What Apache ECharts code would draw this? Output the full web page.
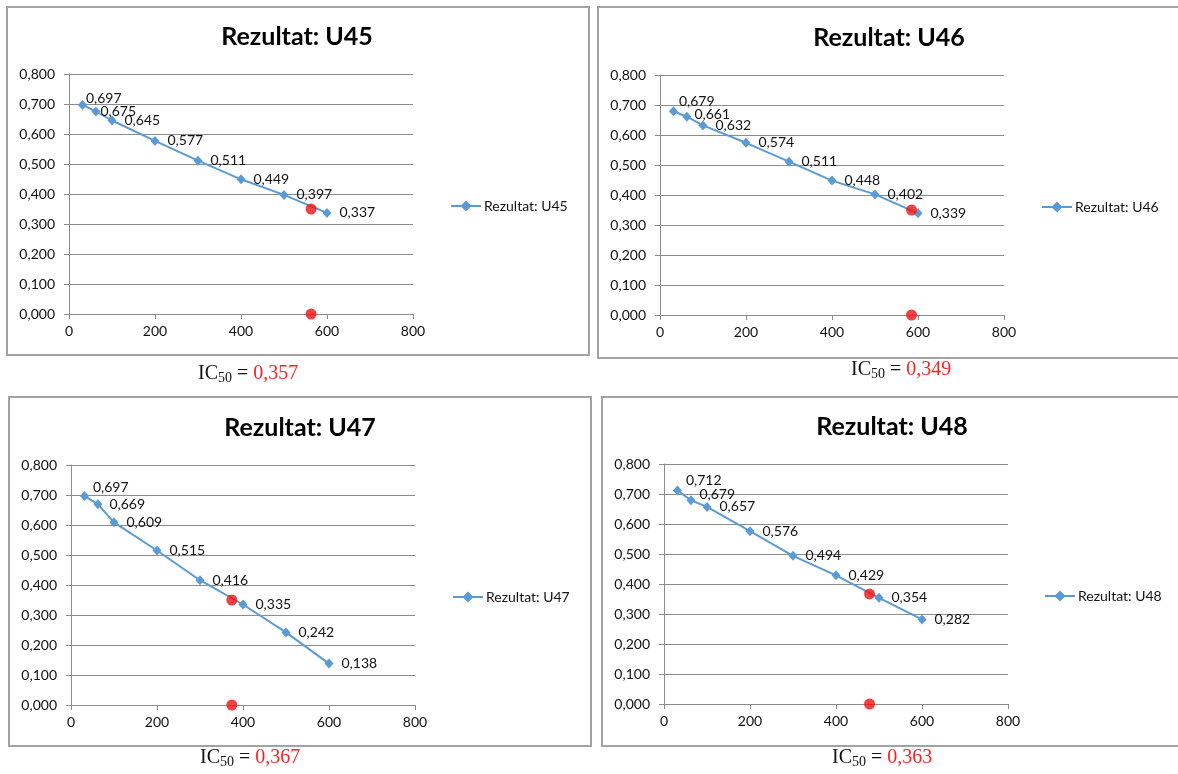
<!DOCTYPE html>
<html>
<head>
<meta charset="utf-8">
<script src="https://cdn.jsdelivr.net/npm/echarts@6/dist/echarts.min.js"></script>
<style>
html,body{margin:0;padding:0;background:#fff;}
#c{width:1178px;height:774px;}
</style>
</head>
<body>
<div id="c"></div>
<script>
// ---- data ----
const concentrations = [31.25, 62.5, 100, 200, 300, 400, 500, 600];
const seriesNames = ['Rezultat: U45', 'Rezultat: U46', 'Rezultat: U47', 'Rezultat: U48'];
const valuesU45 = [0.697, 0.675, 0.645, 0.577, 0.511, 0.449, 0.397, 0.337];
const valuesU46 = [0.679, 0.661, 0.632, 0.574, 0.511, 0.448, 0.402, 0.339];
const valuesU47 = [0.697, 0.669, 0.609, 0.515, 0.416, 0.335, 0.242, 0.138];
const valuesU48 = [0.712, 0.679, 0.657, 0.576, 0.494, 0.429, 0.354, 0.282];
const ic50X = [563, 585, 374, 478];
const ic50Y = [0.350, 0.350, 0.350, 0.367];
const ic50Values = [0.357, 0.349, 0.367, 0.363];
const xTicks = [0, 200, 400, 600, 800];
const yTicks = [0, 0.1, 0.2, 0.3, 0.4, 0.5, 0.6, 0.7, 0.8];

// ---- layout / style ----
const allValues = [valuesU45, valuesU46, valuesU47, valuesU48];
const panels = [
  {box:[7,7,582,348],   grid:[69,74,344,240],  title:[297,37],  legend:[450,199], ic:[198,374]},
  {box:[598,7,600,351], grid:[660,75,344,240], title:[889,38],  legend:[1041,200], ic:[851,370]},
  {box:[9,397,582,349], grid:[71,465,344,240], title:[300,428], legend:[452,590], ic:[200,758]},
  {box:[602,397,600,349],grid:[664,464,344,240],title:[892,427],legend:[1044,589], ic:[832,758]}
];
const labelNudges = [
  [[-9,-6],[-8,0]],
  [[-7,-10],[-5,-2]],
  [[-4,-8],[-1,0]],
  [[-4,-10],[-4,-6]]
];
const FONT = 'Lato';
const BLUE = '#5b9bd5';
const RED = '#ee1111';
const fmt = v => v.toFixed(3).replace('.', ',');

const grid = [], xAxis = [], yAxis = [], series = [], legend = [], graphic = [];
panels.forEach((p, i) => {
  grid.push({left:p.grid[0], top:p.grid[1], width:p.grid[2], height:p.grid[3], containLabel:false});
  xAxis.push({
    type:'value', gridIndex:i, min:xTicks[0], max:xTicks[xTicks.length-1], interval:200,
    axisLine:{show:true, onZero:false, lineStyle:{color:'#8c8c8c', width:1}},
    axisTick:{show:true, inside:false, length:5, lineStyle:{color:'#8c8c8c'}},
    splitLine:{show:false},
    axisLabel:{fontFamily:FONT, fontSize:14, color:'#111', margin:10}
  });
  yAxis.push({
    type:'value', gridIndex:i, min:yTicks[0], max:yTicks[yTicks.length-1], interval:0.1,
    axisLine:{show:true, lineStyle:{color:'#8c8c8c', width:1}},
    axisTick:{show:true, inside:false, length:5, lineStyle:{color:'#8c8c8c'}},
    splitLine:{show:true, lineStyle:{color:'#8c8c8c', width:1}},
    axisLabel:{fontFamily:FONT, fontSize:14, color:'#111', margin:14, formatter:v => fmt(v)}
  });
  const data = concentrations.map((x, k) => {
    const item = {value:[x, allValues[i][k]]};
    if (k < 2) item.label = {offset: labelNudges[i][k]};
    return item;
  });
  series.push({
    name: seriesNames[i], type:'line', xAxisIndex:i, yAxisIndex:i, data,
    symbol:'diamond', symbolSize:[9,10], showAllSymbol:true,
    lineStyle:{color:BLUE, width:2}, itemStyle:{color:BLUE},
    label:{show:true, position:'right', distance:8, fontFamily:FONT, fontSize:14, color:'#111',
      formatter: prm => fmt(prm.value[1])},
    animation:false, z:2
  });
  series.push({
    name:'IC50_' + i, type:'scatter', xAxisIndex:i, yAxisIndex:i,
    data:[[ic50X[i], ic50Y[i]], [ic50X[i], 0]],
    symbol:'circle', symbolSize:11, itemStyle:{color:RED}, animation:false, z:5
  });
  legend.push({
    data:[seriesNames[i]], left:p.legend[0], top:p.legend[1], padding:0,
    itemWidth:30, itemHeight:14, itemGap:0,
    textStyle:{fontFamily:FONT, fontSize:14, color:'#111', padding:[0,0,0,-2]}
  });
  graphic.push({
    type:'rect', shape:{x:p.box[0], y:p.box[1], width:p.box[2], height:p.box[3]},
    style:{fill:'none', stroke:'#a3a3a3', lineWidth:2}, silent:true, z:-1
  });
  graphic.push({
    type:'text', x:p.title[0], y:p.title[1],
    style:{text:seriesNames[i], fontFamily:FONT, fontWeight:'bold', fontSize:25, fill:'#000',
      align:'center', verticalAlign:'middle'}
  });
  graphic.push({
    type:'text', x:p.ic[0], y:p.ic[1],
    style:{
      text:'{a|IC}{s|50}{a| = }{r|' + fmt(ic50Values[i]) + '}',
      verticalAlign:'middle', align:'left',
      rich:{
        a:{fontFamily:'Liberation Serif', fontSize:20, fill:'#111', lineHeight:22, verticalAlign:'middle'},
        s:{fontFamily:'Liberation Serif', fontSize:14, fill:'#111', lineHeight:21, verticalAlign:'bottom'},
        r:{fontFamily:'Liberation Serif', fontSize:20, fill:'#ff2020', lineHeight:22, verticalAlign:'middle'}
      }
    }
  });
});

const chart = echarts.init(document.getElementById('c'), null, {renderer:'canvas'});
chart.setOption({animation:false, backgroundColor:'#fff', grid, xAxis, yAxis, series, legend, graphic});
</script>
</body>
</html>
